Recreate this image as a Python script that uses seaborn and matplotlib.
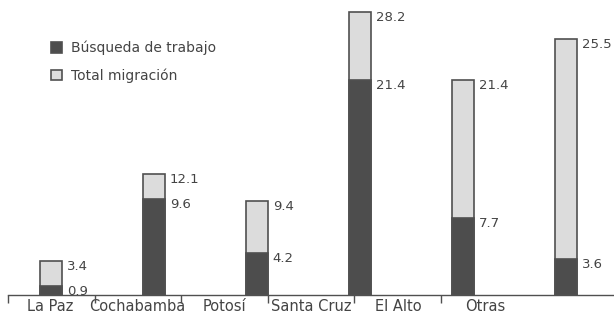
import matplotlib
matplotlib.use("Agg")
import matplotlib.pyplot as plt
import seaborn as sns
import pandas as pd
import numpy as np

categorias = ["La Paz", "Cochabamba", "Potosí", "Santa Cruz", "El Alto", "Otras"]
busqueda_trabajo = [0.9, 9.6, 4.2, 21.4, 7.7, 3.6]
total_migracion = [3.4, 12.1, 9.4, 28.2, 21.4, 25.5]
serie_nombres = ["Búsqueda de trabajo", "Total migración"]

sns.set_theme(style="white")
plt.rcParams['font.family'] = ['DejaVu Sans']

dark = "#4d4d4d"
light = "#dcdcdc"
edge = "#505050"
txt = "#444444"

df = pd.DataFrame({"region": categorias, "busq": busqueda_trabajo, "total": total_migracion})

fig = plt.figure(figsize=(6.14, 3.18), dpi=100)
ax = fig.add_axes([8/614, 23/318, 1 - 8/614, 295/318])

sns.barplot(data=df, x="region", y="total", order=categorias, color=light,
            edgecolor=edge, linewidth=1.2, width=0.21, saturation=1, ax=ax)
sns.barplot(data=df, x="region", y="busq", order=categorias, color=dark,
            edgecolor=edge, linewidth=1.2, width=0.21, saturation=1, ax=ax)

ax.set_ylim(0, 295/10.04)
ax.set_xlim(-0.417, 5.466)

# value labels to the right of bar tops
for i, (b, t) in enumerate(zip(busqueda_trabajo, total_migracion)):
    ax.annotate(f"{t:.1f}", (i + 0.105, t), xytext=(3.5, -4), textcoords="offset points",
                ha="left", va="center", fontsize=9.5, color=txt)
    ax.annotate(f"{b:.1f}", (i + 0.105, b), xytext=(3.5, -4), textcoords="offset points",
                ha="left", va="center", fontsize=9.5, color=txt)

# category labels and separators along baseline
n = len(categorias)
label_pos = [-0.01 + 0.845 * i for i in range(n)]
sep_pos = [-0.417 + 0.84 * i for i in range(n)]
ax.set_xticks(label_pos)
ax.set_xticklabels(categorias, fontsize=10.5, color=txt)
ax.set_xticks(sep_pos, minor=True)
ax.tick_params(axis="x", which="major", length=0, pad=3)
ax.tick_params(axis="x", which="minor", length=6, width=1, color=edge, direction="out", bottom=True)
ax.set_yticks([])
ax.set_xlabel("")
ax.set_ylabel("")
for s in ["left", "right", "top"]:
    ax.spines[s].set_visible(False)
ax.spines["bottom"].set_color(edge)
ax.spines["bottom"].set_linewidth(1)

from matplotlib.patches import Patch
handles = [Patch(facecolor=dark, edgecolor=edge, linewidth=1.2),
           Patch(facecolor=light, edgecolor=edge, linewidth=1.2)]
leg = ax.legend(handles, serie_nombres, loc="upper left", bbox_to_anchor=(38/614, 1 - 35/295),
                frameon=False, fontsize=10, handlelength=0.8, handleheight=0.8,
                handletextpad=0.6, labelspacing=0.95, borderaxespad=0)
for t in leg.get_texts():
    t.set_color(txt)

fig.savefig("out.png", dpi=100)
